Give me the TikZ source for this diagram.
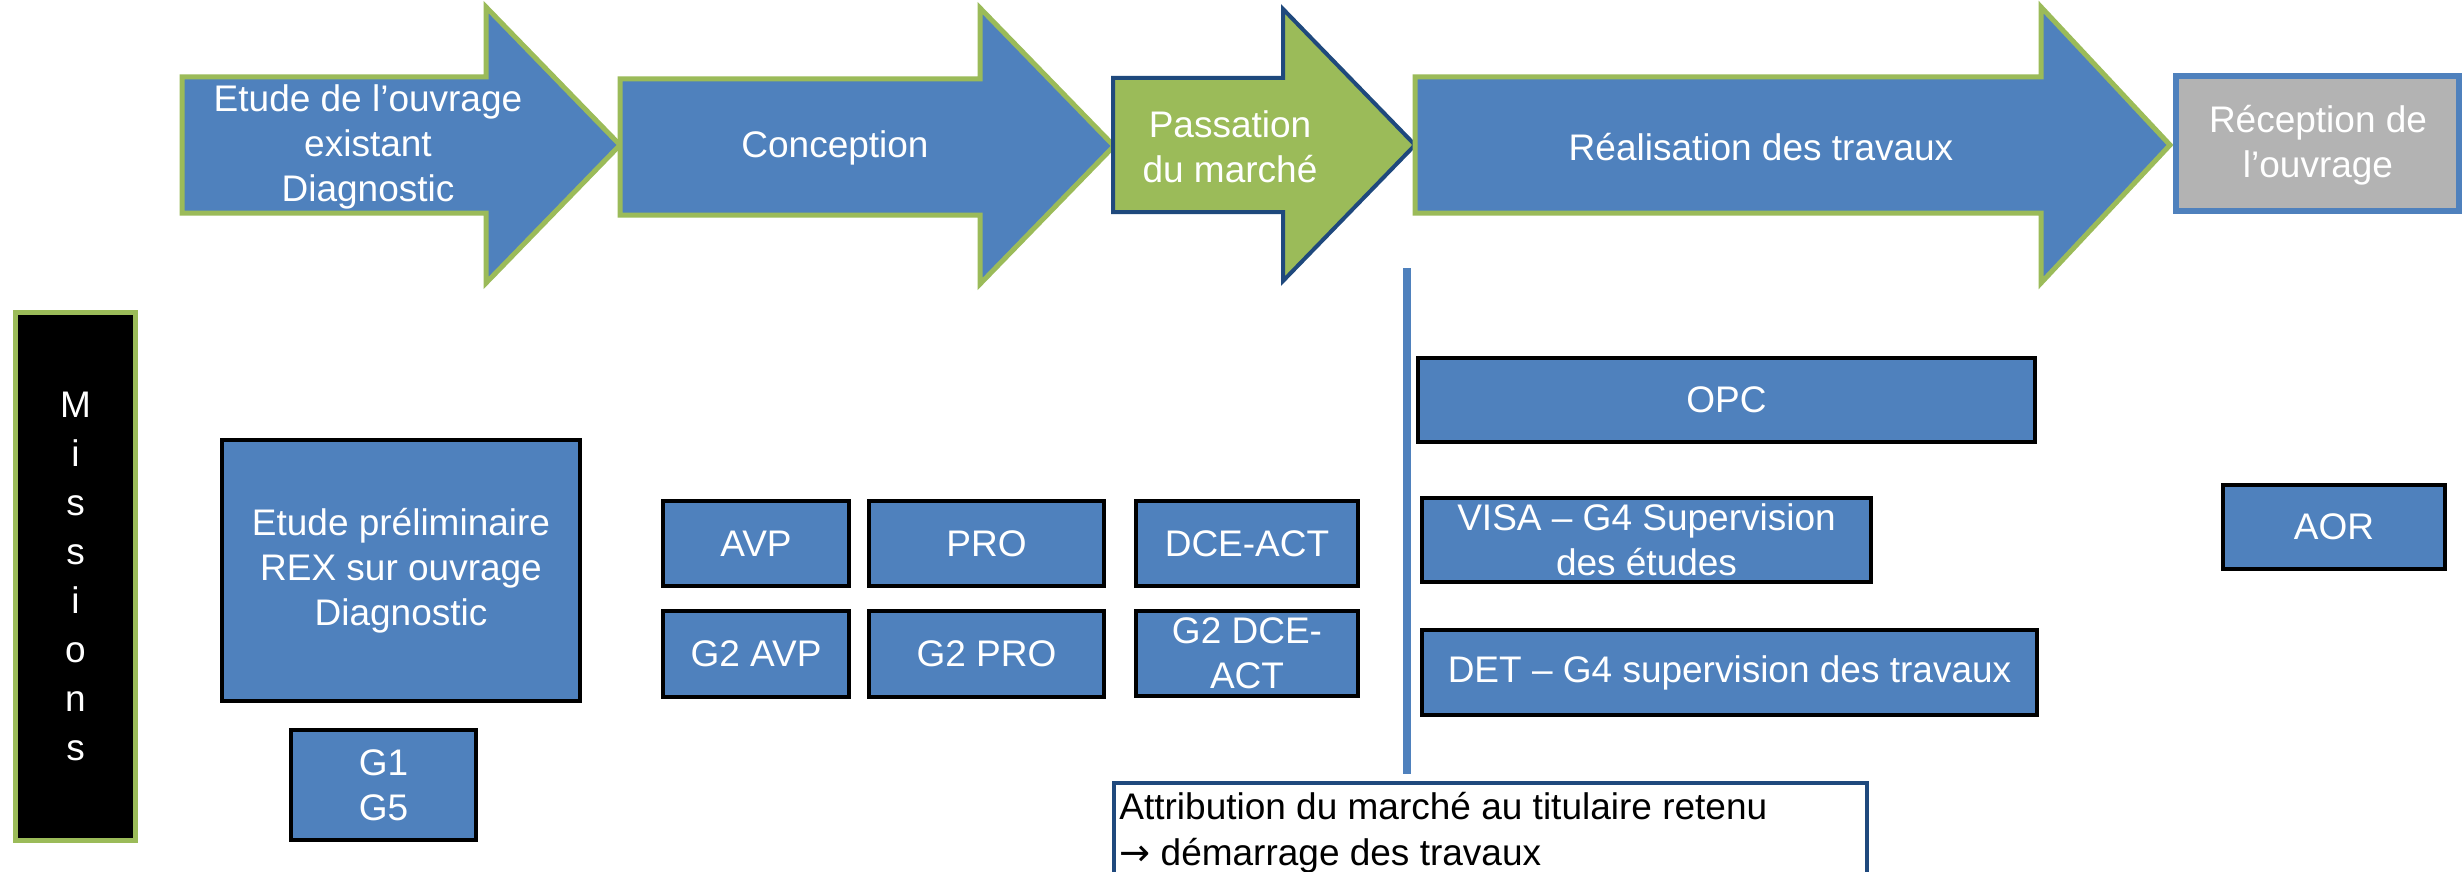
\documentclass[tikz,border=0pt]{standalone}
\usepackage{fontspec}
\setmainfont{Liberation Sans}
\newfontfamily\symfont{DejaVu Sans}
\definecolor{ofblue}{HTML}{4F81BD}
\definecolor{ofgreen}{HTML}{9BBB59}
\definecolor{ofnavy}{HTML}{1F497D}
\definecolor{ofgray}{HTML}{B3B3B3}
\tikzset{
  phasearrow/.style={fill=ofblue, draw=ofgreen, line width=2.5pt, line join=miter},
  phasetext/.style={text=white, align=center, inner sep=0pt, font=\fontsize{18.5}{22.5}\selectfont},
  mbox/.style={fill=ofblue, draw=black, line width=2pt, text=white, align=center, inner sep=0pt, font=\fontsize{18.5}{22.5}\selectfont},
  vline/.style={draw=ofblue, line width=4pt},
}
\newcommand\mkbox[6]{\node[mbox, minimum width={(#4-#2-4)*0.5pt}, minimum height={(#5-#3-4)*0.5pt}] (#1) at ({(#2+#4)/2},{(#3+#5)/2}) {#6};}
\begin{document}
\begin{tikzpicture}[x=0.5pt,y=-0.5pt]
\clip (0,0) rectangle (2464,872);
\fill[white] (0,0) rectangle (2464,872);
% phase arrows
\draw[phasearrow] (182,77) -- (486,77) -- (486,7) -- (620,145) -- (486,283) -- (486,213) -- (182,213) -- cycle;
\draw[phasearrow] (620,79) -- (980,79) -- (980,8) -- (1114,146) -- (980,284) -- (980,215) -- (620,215) -- cycle;
\draw[phasearrow, fill=ofgreen, draw=ofnavy, line width=2pt] (1113,78) -- (1283,78) -- (1283,9) -- (1415,145) -- (1283,281) -- (1283,212) -- (1113,212) -- cycle;
\draw[phasearrow] (1415,77) -- (2041,77) -- (2041,7) -- (2170,145) -- (2041,283) -- (2041,213) -- (1415,213) -- cycle;
\draw[fill=ofgray, draw=ofblue, line width=3pt] (2176,76) rectangle (2459,211);
\node[phasetext] (p1) at (368,147) {Etude de l’ouvrage\\existant\\Diagnostic};
\node[phasetext] (p2) at (835,148) {Conception};
\node[phasetext] (p3) at (1230,147) {Passation\\du marché};
\node[phasetext] (p4) at (1761,147) {Réalisation des travaux};
\node[phasetext] (p5) at (2318,145) {Réception de\\l’ouvrage};
% missions label
\node[fill=black, draw=ofgreen, line width=2.5pt, text=white, align=center, inner sep=0pt,
  minimum width=60pt, minimum height=264pt, font=\fontsize{18.5}{24.5}\selectfont] (miss) at (75.5,576.5) {M\\i\\s\\s\\i\\o\\n\\s};
% mission boxes
\mkbox{prelim}{220}{438}{582}{703}{Etude préliminaire\\REX sur ouvrage\\Diagnostic}
\mkbox{g1}{289}{728}{478}{842}{G1\\G5}
\mkbox{avp}{661}{499}{851}{588}{AVP}
\mkbox{g2avp}{661}{609}{851}{699}{G2 AVP}
\mkbox{pro}{867}{499}{1106}{588}{PRO}
\mkbox{g2pro}{867}{609}{1106}{699}{G2 PRO}
\mkbox{dce}{1134}{499}{1360}{588}{DCE-ACT}
\mkbox{g2dce}{1134}{609}{1360}{698}{G2 DCE-\\ACT}
\mkbox{opc}{1416}{356}{2037}{444}{OPC}
\mkbox{visa}{1420}{496}{1873}{584}{VISA – G4 Supervision\\des études}
\mkbox{det}{1420}{628}{2039}{717}{DET – G4 supervision des travaux}
\mkbox{aor}{2221}{483}{2447}{571}{AOR}
% vertical separator
\coordinate (vtop) at (1407,268);
\coordinate (vbot) at (1407,774);
\draw[vline] (vtop) -- (vbot);
% attribution box
\draw[fill=white, draw=ofnavy, line width=2pt] (1114,783) rectangle (1867,900);
\node[anchor=west, align=left, inner sep=0pt, font=\fontsize{18.5}{23}\selectfont] (attr) at (1119,833) {Attribution du marché au titulaire retenu\\{\symfont →} démarrage des travaux};
\end{tikzpicture}
\end{document}
